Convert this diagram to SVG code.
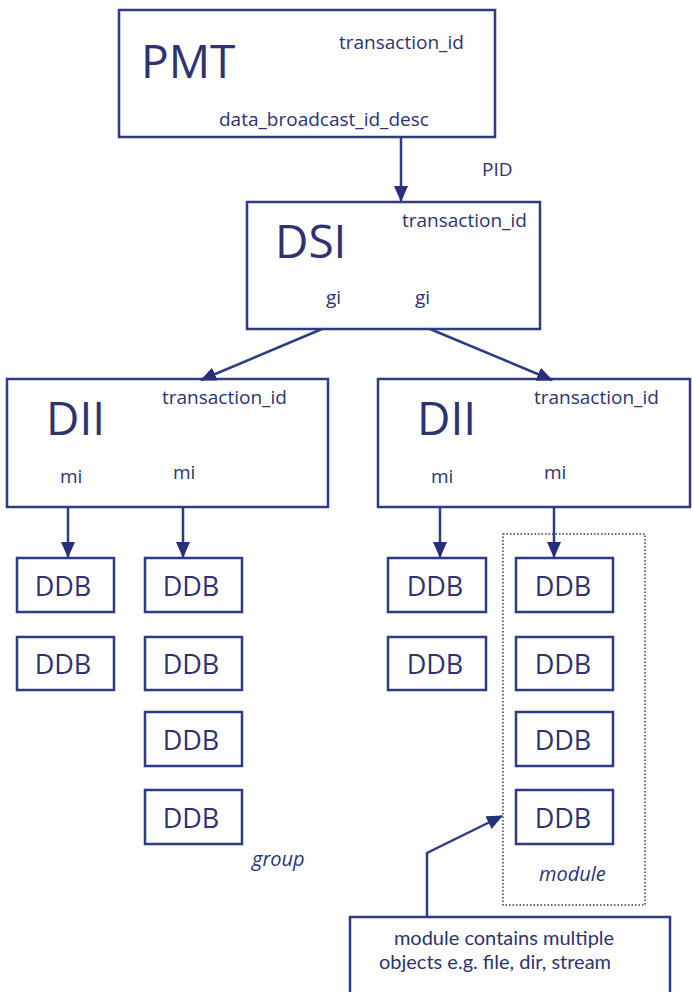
<svg xmlns="http://www.w3.org/2000/svg" width="693" height="992" viewBox="0 0 693 992">
<style>
.box{fill:#fff;stroke:#2e3b85;stroke-width:2.5}
.t{font-family:"Open Sans","Liberation Sans",sans-serif;fill:#2c3370}
.big{font-size:46px}
.small{font-size:19px}
.note{font-family:Lato,"Open Sans",sans-serif;font-size:20px;text-anchor:middle}
.ddb{font-size:27px;text-anchor:middle}
.it{font-style:italic;font-size:20px}
.conn{stroke:#2e3b85;stroke-width:2.5;fill:none;marker-end:url(#ah)}
</style>
<defs>
<marker id="ah" markerUnits="userSpaceOnUse" markerWidth="16" markerHeight="16" viewBox="0 0 16 16" refX="15" refY="8" orient="auto">
<path d="M0,1 L16,8 L0,15 Z" fill="#26307a"/>
</marker>
</defs>
<rect width="693" height="992" fill="#fff"/>
<g id="pmt">
<rect class="box" x="119" y="10" width="376" height="127"/>
<text class="t big" x="141" y="78">PMT</text>
<text class="t small" x="339" y="49">transaction_id</text>
<text class="t small" x="219" y="126">data_broadcast_id_desc</text>
</g>
<text class="t small" x="482" y="176">PID</text>
<g id="dsi">
<rect class="box" x="247" y="202" width="293" height="127"/>
<text class="t big" x="275" y="258">DSI</text>
<text class="t small" x="402" y="227">transaction_id</text>
<text class="t small" x="326" y="304">gi</text>
<text class="t small" x="415" y="304">gi</text>
</g>
<g id="dii1">
<rect class="box" x="7" y="379" width="321" height="128"/>
<text class="t big" x="46" y="435">DII</text>
<text class="t small" x="162" y="404">transaction_id</text>
<text class="t small" x="60" y="483">mi</text>
<text class="t small" x="173" y="479">mi</text>
</g>
<g id="dii2">
<rect class="box" x="378" y="379" width="312" height="128"/>
<text class="t big" x="417" y="435">DII</text>
<text class="t small" x="534" y="404">transaction_id</text>
<text class="t small" x="431" y="483">mi</text>
<text class="t small" x="544" y="479">mi</text>
</g>
<g id="module">
<rect x="503" y="534" width="142" height="371" fill="none" stroke="#333a66" stroke-width="1.5" stroke-dasharray="1.5 2"/>
<text class="t it" x="539" y="881">module</text>
</g>
<text class="t it" x="252" y="866">group</text>
<g id="ddb-c1r1"><rect class="box" x="17" y="558" width="97" height="54"/><text class="t ddb" x="63" y="596">DDB</text></g>
<g id="ddb-c1r2"><rect class="box" x="17" y="637" width="97" height="53"/><text class="t ddb" x="63" y="674">DDB</text></g>
<g id="ddb-c2r1"><rect class="box" x="145" y="558" width="97" height="54"/><text class="t ddb" x="191" y="596">DDB</text></g>
<g id="ddb-c2r2"><rect class="box" x="145" y="637" width="97" height="53"/><text class="t ddb" x="191" y="674">DDB</text></g>
<g id="ddb-c2r3"><rect class="box" x="145" y="712" width="97" height="54"/><text class="t ddb" x="191" y="750">DDB</text></g>
<g id="ddb-c2r4"><rect class="box" x="145" y="790" width="97" height="54"/><text class="t ddb" x="191" y="828">DDB</text></g>
<g id="ddb-c3r1"><rect class="box" x="388" y="558" width="98" height="54"/><text class="t ddb" x="435" y="596">DDB</text></g>
<g id="ddb-c3r2"><rect class="box" x="388" y="637" width="98" height="53"/><text class="t ddb" x="435" y="674">DDB</text></g>
<g id="ddb-c4r1"><rect class="box" x="516" y="558" width="97" height="54"/><text class="t ddb" x="563" y="596">DDB</text></g>
<g id="ddb-c4r2"><rect class="box" x="516" y="637" width="97" height="53"/><text class="t ddb" x="563" y="674">DDB</text></g>
<g id="ddb-c4r3"><rect class="box" x="516" y="712" width="97" height="54"/><text class="t ddb" x="563" y="750">DDB</text></g>
<g id="ddb-c4r4"><rect class="box" x="516" y="790" width="97" height="54"/><text class="t ddb" x="563" y="828">DDB</text></g>
<g id="note">
<rect class="box" x="350" y="917" width="320" height="90"/>
<text class="t note" x="504" y="945">module contains multiple</text>
<text class="t note" x="495" y="969">objects e.g. file, dir, stream</text>
</g>
<g id="connectors">
<line class="conn" x1="401" y1="137" x2="401" y2="201"/>
<line class="conn" x1="322" y1="329" x2="201" y2="380"/>
<line class="conn" x1="430" y1="329" x2="552" y2="380"/>
<line class="conn" x1="68" y1="507" x2="68" y2="557"/>
<line class="conn" x1="183" y1="507" x2="183" y2="557"/>
<line class="conn" x1="440" y1="507" x2="440" y2="557"/>
<line class="conn" x1="554" y1="507" x2="554" y2="557"/>
<polyline class="conn" points="427,917 427,853 502,816"/>
</g>
</svg>
